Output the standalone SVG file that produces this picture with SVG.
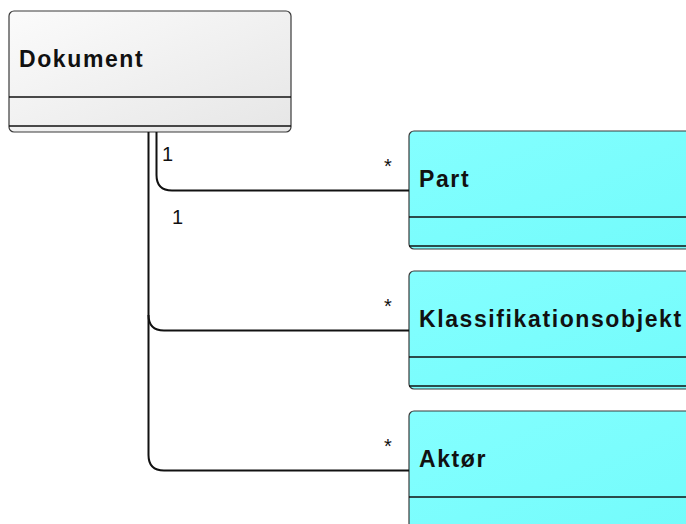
<svg xmlns="http://www.w3.org/2000/svg" width="686" height="524" viewBox="0 0 686 524">
  <defs>
    <linearGradient id="gradGray" x1="0" y1="0" x2="1" y2="1">
      <stop offset="0" stop-color="#fbfbfb"/>
      <stop offset="1" stop-color="#e6e6e6"/>
    </linearGradient>
    <linearGradient id="gradCyan" x1="0" y1="0" x2="1" y2="1">
      <stop offset="0" stop-color="#84ffff"/>
      <stop offset="1" stop-color="#72fbfb"/>
    </linearGradient>
  </defs>
  <style>
    .box { stroke: #3a3a3a; stroke-width: 1.2; }
    .sep { stroke: #111; stroke-width: 1.6; fill: none; }
    .name { font-family: "Liberation Sans", Arial, sans-serif; font-weight: bold; font-size: 23px; letter-spacing: 1.6px; fill: #111; }
    .edge { stroke: #111; stroke-width: 2; fill: none; }
    .mult { font-family: "Liberation Sans", Arial, sans-serif; font-size: 20px; fill: #111; }
  </style>

  <!-- class: Dokument -->
  <g id="dokument">
    <rect class="box" x="9" y="11" width="282" height="121" rx="5" fill="url(#gradGray)"/>
    <line class="sep" x1="9" y1="97" x2="291" y2="97"/>
    <line class="sep" x1="9" y1="126" x2="291" y2="126"/>
    <text class="name" x="19" y="67" letter-spacing="2.4">Dokument</text>
  </g>

  <!-- class: Part -->
  <g id="part">
    <rect class="box" x="409" y="131" width="290" height="118" rx="5" fill="url(#gradCyan)"/>
    <line class="sep" x1="409" y1="217" x2="699" y2="217"/>
    <line class="sep" x1="409" y1="246" x2="699" y2="246"/>
    <text class="name" x="419" y="187">Part</text>
  </g>

  <!-- class: Klassifikationsobjekt -->
  <g id="klassifikationsobjekt">
    <rect class="box" x="409" y="271" width="290" height="118" rx="5" fill="url(#gradCyan)"/>
    <line class="sep" x1="409" y1="357" x2="699" y2="357"/>
    <line class="sep" x1="409" y1="386" x2="699" y2="386"/>
    <text class="name" x="419" y="327">Klassifikationsobjekt</text>
  </g>

  <!-- class: Aktør -->
  <g id="aktor">
    <rect class="box" x="409" y="411" width="290" height="130" rx="5" fill="url(#gradCyan)"/>
    <line class="sep" x1="409" y1="497" x2="699" y2="497"/>
    <text class="name" x="419" y="467">Aktør</text>
  </g>

  <!-- associations -->
  <g id="connectors">
    <path class="edge" d="M156.5,132 V175 Q156.5,190.5 172,190.5 H409"/>
    <path class="edge" d="M148.5,132 V315 Q148.5,330.5 164,330.5 H409"/>
    <path class="edge" d="M148.5,315 V455 Q148.5,470.5 164,470.5 H409"/>
    <text class="mult" x="162" y="161">1</text>
    <text class="mult" x="172" y="224">1</text>
    <text class="mult" x="384" y="173">*</text>
    <text class="mult" x="384" y="313">*</text>
    <text class="mult" x="384" y="453">*</text>
  </g>
</svg>
